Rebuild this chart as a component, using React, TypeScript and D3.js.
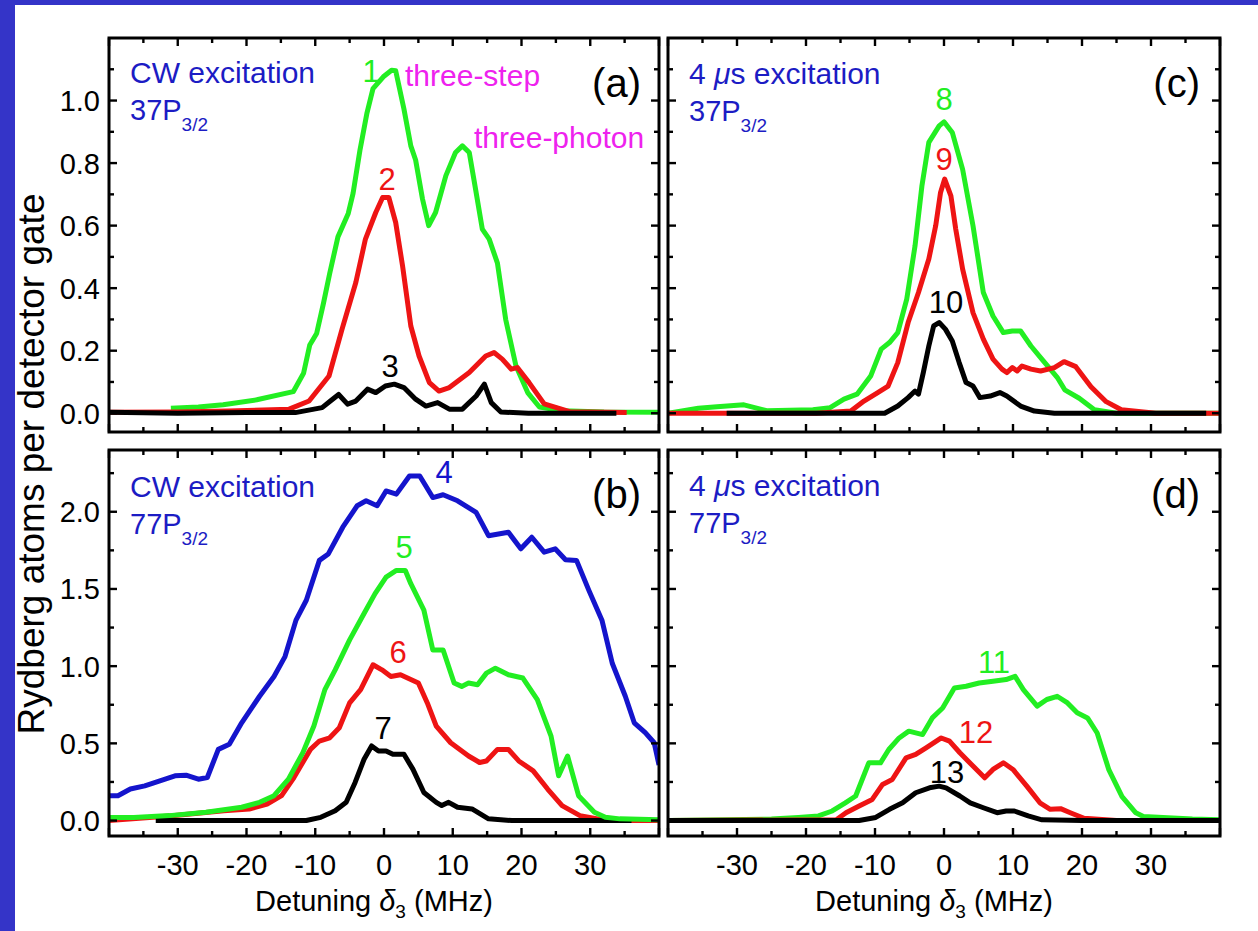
import React from "react";
import * as d3 from "d3";

// ---------------- DATA ----------------
// Panel (a): CW excitation, 37P3/2
const a1X = [-31, -27, -23.4, -18.5, -13.2, -11.7, -10.8, -9.8, -8.8, -7.9, -6.7, -5.2, -4.5, -3.5, -2.5, -1.6, -0.1, 1.1, 1.7, 2.9, 3.9, 4.6, 5.6, 6.5, 7.5, 9.0, 10.4, 11.4, 12.4, 13.4, 14.3, 15.3, 16.5, 17.7, 19.2, 20.9, 22.6, 26, 32, 40];
const a1Y = [0.016, 0.02, 0.027, 0.043, 0.069, 0.128, 0.218, 0.255, 0.352, 0.447, 0.564, 0.639, 0.703, 0.841, 0.958, 1.038, 1.076, 1.097, 1.095, 0.973, 0.855, 0.81, 0.685, 0.6, 0.642, 0.76, 0.834, 0.855, 0.834, 0.706, 0.589, 0.557, 0.48, 0.3, 0.151, 0.066, 0.02, 0.008, 0.004, 0.003];
const a2X = [-40, -30, -22.6, -13.8, -10.9, -8.0, -6.1, -4.1, -2.7, -1.2, -0.2, 0.7, 1.7, 2.7, 3.9, 5.1, 6.6, 8.0, 9.5, 12.4, 14.8, 16.0, 17.2, 18.5, 19.4, 21.1, 23.3, 27, 35.3];
const a2Y = [0.003, 0.004, 0.007, 0.013, 0.039, 0.119, 0.269, 0.418, 0.557, 0.642, 0.69, 0.69, 0.61, 0.471, 0.279, 0.183, 0.098, 0.071, 0.082, 0.13, 0.183, 0.194, 0.173, 0.141, 0.146, 0.098, 0.03, 0.005, 0.002];
const a3X = [-40, -30, -20, -12.9, -9, -7.8, -6.6, -5.3, -4.1, -2.4, -1.2, 0.2, 1.5, 2.9, 4.6, 6.1, 7.8, 9.5, 11.4, 13.4, 14.6, 15.6, 17, 21, 33.8];
const a3Y = [0.003, 0.0, 0.002, 0.002, 0.018, 0.039, 0.06, 0.029, 0.039, 0.077, 0.066, 0.087, 0.093, 0.082, 0.045, 0.023, 0.034, 0.013, 0.013, 0.055, 0.093, 0.034, 0.004, 0.0, 0.0];

// Panel (b): CW excitation, 77P3/2
const b4X = [-40, -38.7, -36.9, -34.8, -30.4, -28.8, -27, -25.7, -24.1, -22.5, -20.7, -18.1, -16, -14.4, -12.8, -11.3, -9.4, -8.1, -6, -3.9, -2.6, -1.0, 0.3, 1.8, 3.7, 5.2, 7.1, 8.6, 10.7, 13.4, 15.2, 18.1, 19.9, 21.5, 23.3, 24.9, 26.4, 28, 29.8, 31.7, 33.2, 35.1, 36.4, 38, 39.3, 40];
const b4Y = [0.161, 0.161, 0.204, 0.225, 0.29, 0.294, 0.268, 0.279, 0.461, 0.494, 0.633, 0.805, 0.933, 1.062, 1.298, 1.427, 1.685, 1.727, 1.9, 2.039, 2.071, 2.039, 2.135, 2.114, 2.232, 2.232, 2.092, 2.11, 2.071, 1.996, 1.845, 1.867, 1.76, 1.835, 1.738, 1.76, 1.689, 1.685, 1.491, 1.298, 1.019, 0.805, 0.633, 0.569, 0.504, 0.36];
const b5X = [-40, -36.4, -31.2, -25.9, -20.7, -18.1, -16, -13.9, -11.8, -10.2, -8.6, -7.1, -5, -2.9, -1.3, 0.3, 1.8, 3.1, 3.9, 5.8, 7.1, 8.6, 10.2, 11.3, 12.3, 13.6, 14.9, 16.2, 18.1, 20.2, 22.3, 24.3, 25.4, 26.7, 28.3, 30.6, 32.2, 34.3, 40];
const b5Y = [0.02, 0.02, 0.032, 0.054, 0.086, 0.118, 0.161, 0.268, 0.44, 0.612, 0.848, 0.976, 1.17, 1.341, 1.47, 1.577, 1.62, 1.62, 1.534, 1.363, 1.105, 1.105, 0.891, 0.869, 0.891, 0.88, 0.955, 0.987, 0.944, 0.923, 0.783, 0.547, 0.29, 0.418, 0.161, 0.054, 0.021, 0.011, 0.005];
const b6X = [-40, -31.2, -23.3, -19.6, -17, -14.9, -13.1, -10.7, -9.4, -7.9, -6.5, -5, -3.4, -1.6, -0.3, 1.0, 2.4, 5, 6.3, 7.6, 9.7, 12.3, 13.9, 14.9, 16.5, 18.1, 19.6, 21.7, 23.8, 25.9, 28.5, 31.7, 35, 40];
const b6Y = [0.0, 0.03, 0.064, 0.075, 0.107, 0.161, 0.279, 0.461, 0.515, 0.536, 0.601, 0.762, 0.848, 1.009, 0.976, 0.933, 0.944, 0.891, 0.762, 0.612, 0.504, 0.418, 0.376, 0.386, 0.461, 0.461, 0.386, 0.322, 0.204, 0.097, 0.032, 0.005, 0.0, 0.0];
const b7X = [-33.2, -20, -11.3, -9.2, -7.1, -5.5, -4.2, -2.9, -1.8, -0.8, 0.3, 1.3, 2.9, 4.2, 5.8, 7.6, 8.4, 9.4, 10.7, 12.8, 15.2, 18.6, 30, 36];
const b7Y = [0.0, 0.0, 0.0, 0.021, 0.064, 0.118, 0.247, 0.397, 0.483, 0.451, 0.451, 0.429, 0.429, 0.333, 0.182, 0.118, 0.097, 0.118, 0.086, 0.075, 0.011, 0.0, 0.0, 0.0];

// Panel (c): 4 us excitation, 37P3/2
const c8X = [-40, -35.6, -32.9, -29, -25.7, -19, -16.5, -14.5, -12.6, -10.6, -9.1, -7.9, -6.7, -5.4, -4.2, -3.2, -2.2, -0.7, 0, 1.2, 2.7, 4.2, 5.7, 7.1, 8.6, 9.9, 11.1, 12.6, 14.3, 16.4, 17.5, 19.6, 21.8, 25, 32, 40];
const c8Y = [0.0, 0.016, 0.021, 0.027, 0.008, 0.011, 0.018, 0.045, 0.061, 0.12, 0.205, 0.226, 0.258, 0.365, 0.535, 0.727, 0.866, 0.919, 0.932, 0.898, 0.78, 0.6, 0.386, 0.311, 0.258, 0.263, 0.263, 0.215, 0.17, 0.115, 0.075, 0.048, 0.011, 0.0, 0.0, 0.0];
const c9X = [-40, -25, -18.5, -13.5, -11.6, -9.6, -8.1, -6.7, -5.2, -3.7, -2.2, -1.2, -0.5, 0.1, 1.0, 1.7, 2.7, 4.2, 5.7, 7.1, 8.4, 9.1, 9.9, 10.6, 11.3, 12.6, 14, 16, 17.4, 19.1, 21.3, 23.5, 25.7, 30.7, 40];
const c9Y = [0.0, 0.0, 0.0, 0.007, 0.039, 0.066, 0.087, 0.162, 0.29, 0.386, 0.493, 0.6, 0.706, 0.749, 0.695, 0.589, 0.461, 0.322, 0.237, 0.173, 0.141, 0.13, 0.146, 0.135, 0.151, 0.141, 0.135, 0.146, 0.165, 0.149, 0.085, 0.037, 0.011, 0.0, 0.0];
const c10X = [-31.5, -20, -8.6, -6.7, -5.2, -4.2, -3.7, -3.0, -2.2, -1.5, -0.7, 0.2, 1.2, 2.2, 3.2, 4.2, 5.2, 6.7, 8.1, 9.1, 11.1, 13.1, 16, 30, 38];
const c10Y = [0.0, 0.0, 0.0, 0.023, 0.05, 0.071, 0.061, 0.13, 0.215, 0.279, 0.29, 0.269, 0.231, 0.162, 0.098, 0.087, 0.05, 0.055, 0.066, 0.055, 0.023, 0.007, 0.0, 0.0, 0.0];

// Panel (d): 4 us excitation, 77P3/2
const d11X = [-40, -25, -21.1, -18.2, -16.2, -14.3, -12.8, -10.9, -9.2, -8.0, -6.5, -5.1, -3.1, -1.7, -0.2, 1.5, 3.2, 5.1, 7.1, 9.0, 10.3, 11.5, 13.5, 14.9, 16.4, 17.9, 19.3, 20.8, 22.2, 23.9, 25.8, 27.8, 28.9, 36, 40];
const d11Y = [0.0, 0.01, 0.02, 0.03, 0.062, 0.115, 0.159, 0.374, 0.374, 0.46, 0.535, 0.579, 0.557, 0.665, 0.729, 0.859, 0.87, 0.891, 0.902, 0.913, 0.934, 0.848, 0.741, 0.784, 0.805, 0.762, 0.698, 0.665, 0.567, 0.328, 0.155, 0.05, 0.026, 0.01, 0.005];
const d12X = [-40, -15.6, -14.2, -12.3, -10.4, -8.9, -7.5, -5.5, -4.1, -2.6, -0.4, 0.8, 2.3, 4.2, 5.9, 7.1, 8.6, 10.0, 12.0, 13.9, 15.4, 16.9, 18.3, 20.3, 25, 40];
const d12Y = [0.0, 0.005, 0.05, 0.094, 0.137, 0.234, 0.266, 0.406, 0.428, 0.471, 0.535, 0.514, 0.439, 0.353, 0.277, 0.331, 0.374, 0.331, 0.223, 0.115, 0.073, 0.077, 0.051, 0.015, 0.0, 0.0];
const d13X = [-40, -12.3, -9.9, -7.9, -6, -4.1, -2.1, -0.7, 0.3, 2.3, 3.8, 5.7, 7.7, 9.0, 10.2, 12.2, 14.2, 20, 40];
const d13Y = [0.0, 0.0, 0.02, 0.073, 0.115, 0.18, 0.212, 0.223, 0.212, 0.159, 0.115, 0.083, 0.051, 0.062, 0.062, 0.03, 0.005, 0.0, 0.0];

// Axes ticks
const xMajorTicks = [-40, -30, -20, -10, 0, 10, 20, 30, 40];
const xMinorTicks = [-35, -25, -15, -5, 5, 15, 25, 35];
const xTickLabels = [-30, -20, -10, 0, 10, 20, 30];
const yTopMajor = [0, 0.2, 0.4, 0.6, 0.8, 1.0];
const yTopMinor = [0.1, 0.3, 0.5, 0.7, 0.9, 1.1];
const yTopLabels = ["0.0", "0.2", "0.4", "0.6", "0.8", "1.0"];
const yBotMajor = [0, 0.5, 1.0, 1.5, 2.0];
const yBotMinor = [0.25, 0.75, 1.25, 1.75, 2.25];
const yBotLabels = ["0.0", "0.5", "1.0", "1.5", "2.0"];

// ---------------- STYLE ----------------
const FONT = "'Liberation Sans', Arial, Helvetica, sans-serif";
const GREEN = "#22ee22";
const RED = "#ee1414";
const BLACK = "#000000";
const BLUE_LINE = "#1414cc";
const BLUE_TEXT = "#1c1cc4";
const MAGENTA = "#ee22ee";
const BG_BLUE = "#3434c8";

type S = { xs: number[]; ys: number[]; color: string };

function Panel(props: {
  left: number; right: number; top: number; bottom: number;
  yDomain: [number, number];
  yMajor: number[]; yMinor: number[]; yLabels: string[] | null;
  showXLabels: boolean;
  series: S[];
  children?: React.ReactNode;
}) {
  const { left, right, top, bottom, yDomain, yMajor, yMinor, yLabels, showXLabels, series } = props;
  const x = d3.scaleLinear().domain([-40, 40]).range([left, right]);
  const y = d3.scaleLinear().domain(yDomain).range([bottom, top]);
  const line = d3.line<[number, number]>().x((d) => x(d[0])).y((d) => y(d[1]));
  const clipId = `clip-${left}-${top}`;
  const MJ = 8, MN = 5;
  return (
    <g>
      <defs>
        <clipPath id={clipId}>
          <rect x={left} y={top} width={right - left} height={bottom - top} />
        </clipPath>
      </defs>
      <g clipPath={`url(#${clipId})`}>
        {series.map((s, i) => (
          <path key={i} d={line(s.xs.map((v, j) => [v, s.ys[j]]) as [number, number][]) || ""}
            fill="none" stroke={s.color} strokeWidth={5} strokeLinejoin="round" strokeLinecap="butt" />
        ))}
      </g>
      <g stroke="#000" strokeWidth={2.4}>
        {xMajorTicks.map((t) => (
          <g key={"xm" + t}>
            <line x1={x(t)} x2={x(t)} y1={bottom} y2={bottom - MJ} />
            <line x1={x(t)} x2={x(t)} y1={top} y2={top + MJ} />
          </g>
        ))}
        {xMinorTicks.map((t) => (
          <g key={"xn" + t}>
            <line x1={x(t)} x2={x(t)} y1={bottom} y2={bottom - MN} />
            <line x1={x(t)} x2={x(t)} y1={top} y2={top + MN} />
          </g>
        ))}
        {yMajor.map((t) => (
          <g key={"ym" + t}>
            <line x1={left} x2={left + MJ} y1={y(t)} y2={y(t)} />
            <line x1={right} x2={right - MJ} y1={y(t)} y2={y(t)} />
          </g>
        ))}
        {yMinor.map((t) => (
          <g key={"yn" + t}>
            <line x1={left} x2={left + MN} y1={y(t)} y2={y(t)} />
            <line x1={right} x2={right - MN} y1={y(t)} y2={y(t)} />
          </g>
        ))}
      </g>
      <rect x={left} y={top} width={right - left} height={bottom - top} fill="none" stroke="#000" strokeWidth={3} />
      {yLabels && yMajor.map((t, i) => (
        <text key={"yl" + t} x={left - 9} y={y(t) + 10.5} textAnchor="end" fontSize={29} fontFamily={FONT} fill="#000">
          {yLabels[i]}
        </text>
      ))}
      {showXLabels && xTickLabels.map((t) => (
        <text key={"xl" + t} x={x(t)} y={875} textAnchor="middle" fontSize={29} fontFamily={FONT} fill="#000">
          {String(t)}
        </text>
      ))}
      {props.children}
    </g>
  );
}

function StateLabel(props: { x: number; y: number; top: string; state: string; mu?: boolean }) {
  const { x, y, top, state, mu } = props;
  return (
    <g fontFamily={FONT} fill={BLUE_TEXT}>
      <text x={x} y={y} fontSize={30}>
        {mu ? (
          <>
            <tspan>4 </tspan>
            <tspan fontStyle="italic">μ</tspan>
            <tspan>s excitation</tspan>
          </>
        ) : (
          <tspan>{top}</tspan>
        )}
      </text>
      <text x={x} y={y + 37} fontSize={29}>
        <tspan>{state}</tspan>
        <tspan fontSize={19} dy={11}>3/2</tspan>
      </text>
    </g>
  );
}

function XTitle(props: { cx: number }) {
  return (
    <text x={props.cx} y={911} textAnchor="middle" fontSize={29} fontFamily={FONT} fill="#000">
      <tspan>Detuning </tspan>
      <tspan fontStyle="italic">δ</tspan>
      <tspan fontSize={19} dy={7}>3</tspan>
      <tspan dy={-7}> (MHz)</tspan>
    </text>
  );
}

export default function App() {
  const W = 1258, H = 931;
  const L1 = 109, R1 = 659, L2 = 668, R2 = 1220;
  const T1 = 38, B1 = 432, T2 = 450, B2 = 836;
  const yDomA: [number, number] = [-0.06, 1.2];
  const yDomB: [number, number] = [-0.1, 2.4];
  const num = (x: number, y: number, t: string, c: string) => (
    <text x={x} y={y} textAnchor="middle" fontSize={31} fontFamily={FONT} fill={c}>{t}</text>
  );
  const letter = (x: number, y: number, t: string) => (
    <text x={x} y={y} textAnchor="end" fontSize={40} fontFamily={FONT} fill="#000">{t}</text>
  );
  return (
    <svg width={W} height={H} style={{ position: "fixed", left: 0, top: 0, background: "#fff" }}>
      <rect x={0} y={0} width={W} height={H} fill="#fff" />
      <rect x={0} y={0} width={15} height={H} fill={BG_BLUE} />
      <rect x={0} y={0} width={W} height={5} fill={BG_BLUE} />

      <Panel left={L1} right={R1} top={T1} bottom={B1} yDomain={yDomA} yMajor={yTopMajor} yMinor={yTopMinor}
        yLabels={yTopLabels} showXLabels={false}
        series={[{ xs: a1X, ys: a1Y, color: GREEN }, { xs: a2X, ys: a2Y, color: RED }, { xs: a3X, ys: a3Y, color: BLACK }]}>
        <StateLabel x={130} y={83} top="CW excitation" state="37P" />
        {num(371, 82, "1", GREEN)}
        {num(387, 190, "2", RED)}
        {num(390, 377, "3", BLACK)}
        <text x={405} y={86} fontSize={30} fontFamily={FONT} fill={MAGENTA}>three-step</text>
        <text x={474} y={148} fontSize={30} fontFamily={FONT} fill={MAGENTA}>three-photon</text>
        {letter(641, 97, "(a)")}
      </Panel>

      <Panel left={L1} right={R1} top={T2} bottom={B2} yDomain={yDomB} yMajor={yBotMajor} yMinor={yBotMinor}
        yLabels={yBotLabels} showXLabels={true}
        series={[{ xs: b6X, ys: b6Y, color: RED }, { xs: b7X, ys: b7Y, color: BLACK }, { xs: b5X, ys: b5Y, color: GREEN }, { xs: b4X, ys: b4Y, color: BLUE_LINE }]}>
        <StateLabel x={130} y={497} top="CW excitation" state="77P" />
        {num(444, 483, "4", BLUE_LINE)}
        {num(404, 558, "5", GREEN)}
        {num(398, 663, "6", RED)}
        {num(383, 739, "7", BLACK)}
        {letter(641, 508, "(b)")}
      </Panel>

      <Panel left={L2} right={R2} top={T1} bottom={B1} yDomain={yDomA} yMajor={yTopMajor} yMinor={yTopMinor}
        yLabels={null} showXLabels={false}
        series={[{ xs: c8X, ys: c8Y, color: GREEN }, { xs: c9X, ys: c9Y, color: RED }, { xs: c10X, ys: c10Y, color: BLACK }]}>
        <StateLabel x={689} y={84} top="" state="37P" mu />
        {num(944, 110, "8", GREEN)}
        {num(944, 170, "9", RED)}
        {num(946, 313, "10", BLACK)}
        {letter(1200, 97, "(c)")}
      </Panel>

      <Panel left={L2} right={R2} top={T2} bottom={B2} yDomain={yDomB} yMajor={yBotMajor} yMinor={yBotMinor}
        yLabels={null} showXLabels={true}
        series={[{ xs: d11X, ys: d11Y, color: GREEN }, { xs: d12X, ys: d12Y, color: RED }, { xs: d13X, ys: d13Y, color: BLACK }]}>
        <StateLabel x={689} y={496} top="" state="77P" mu />
        {num(994, 673, "11", GREEN)}
        {num(976, 743, "12", RED)}
        {num(947, 783, "13", BLACK)}
        {letter(1200, 508, "(d)")}
      </Panel>

      <XTitle cx={374} />
      <XTitle cx={934} />

      <text transform="translate(44,464) rotate(-90)" textAnchor="middle" fontSize={37} fontFamily={FONT} fill="#000">
        Rydberg atoms per detector gate
      </text>
    </svg>
  );
}
